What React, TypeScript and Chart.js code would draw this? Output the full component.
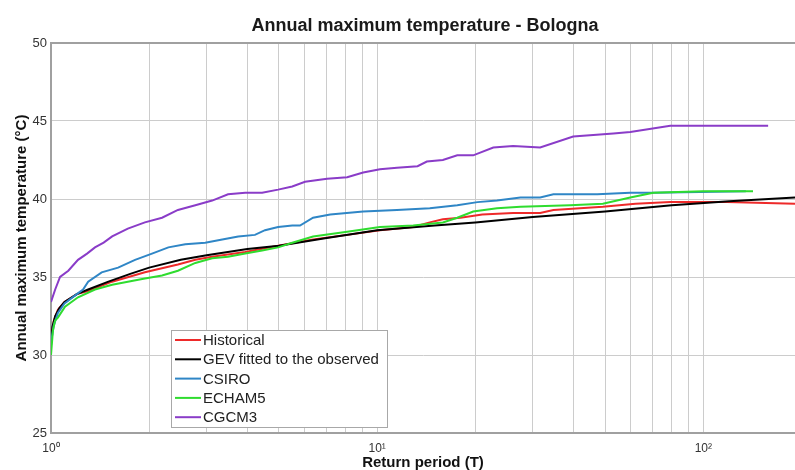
import React, { useEffect, useRef } from 'react';
import { Chart, registerables } from 'chart.js';

Chart.register(...registerables);

const FONT = '"Liberation Sans", Arial, sans-serif';

const chartTitle = 'Annual maximum temperature - Bologna';
const xTitle = 'Return period (T)';
const yTitle = 'Annual maximum temperature (°C)';

const seriesNames = ['Historical', 'GEV fitted to the observed', 'CSIRO', 'ECHAM5', 'CGCM3'];
const seriesColors = ['#ee2a2a', '#000000', '#2f86c6', '#2fdc2f', '#8a3cc8'];

// Historical (empirical)
const histT = [1.0, 1.02, 1.05, 1.1, 1.2, 1.3, 1.54, 1.94, 2.45, 2.77, 3.12, 3.94, 4.97, 6.36, 8.09, 10.2, 12.9, 14.5, 15.9, 18.0, 21.0, 26.1, 31.6, 34.7, 49.2, 62.0, 79.2, 118, 191];
const histV = [31.2, 32.2, 32.9, 33.4, 33.9, 34.1, 34.7, 35.3, 35.8, 36.1, 36.3, 36.6, 37.0, 37.4, 37.7, 38.0, 38.2, 38.5, 38.7, 38.8, 39.0, 39.1, 39.1, 39.3, 39.5, 39.7, 39.8, 39.8, 39.7];

// GEV fitted to the observed
const gevT = [1.0, 1.01, 1.03, 1.06, 1.1, 1.2, 1.3, 1.5, 1.75, 2, 2.5, 3, 4, 5, 7, 10, 15, 20, 30, 50, 80, 120, 191];
const gevV = [30.6, 31.8, 32.5, 33.0, 33.4, 33.9, 34.2, 34.7, 35.2, 35.6, 36.1, 36.4, 36.8, 37.0, 37.5, 38.0, 38.3, 38.5, 38.85, 39.2, 39.6, 39.85, 40.1];

// CSIRO
const csiroT = [1.0, 1.02, 1.05, 1.1, 1.2, 1.254, 1.3, 1.43, 1.606, 1.81, 2.04, 2.29, 2.58, 2.97, 3.35, 3.75, 4.22, 4.53, 4.97, 5.49, 5.8, 6.36, 7.18, 9.06, 11.5, 14.5, 17.6, 20.3, 23.3, 27.5, 31.6, 34.7, 47.3, 59.7, 70.2, 135];
const csiroV = [30.8, 31.9, 32.7, 33.3, 33.9, 34.2, 34.7, 35.3, 35.6, 36.1, 36.5, 36.9, 37.1, 37.2, 37.4, 37.6, 37.7, 38.0, 38.2, 38.3, 38.3, 38.8, 39.0, 39.2, 39.3, 39.4, 39.6, 39.8, 39.9, 40.1, 40.1, 40.3, 40.3, 40.4, 40.4, 40.5];

// ECHAM5
const echamT = [1.0, 1.014, 1.029, 1.05, 1.104, 1.21, 1.364, 1.54, 1.72, 1.94, 2.19, 2.45, 2.77, 3.12, 3.49, 3.94, 4.44, 4.97, 5.49, 6.36, 8.09, 10.2, 12.9, 15.9, 17.6, 19.7, 23.3, 27.5, 39.0, 49.2, 59.7, 70.2, 99.7, 142];
const echamV = [30.0, 31.6, 32.2, 32.4, 33.1, 33.7, 34.2, 34.5, 34.7, 34.9, 35.1, 35.4, 35.9, 36.2, 36.3, 36.5, 36.7, 36.9, 37.2, 37.6, 37.9, 38.2, 38.3, 38.5, 38.8, 39.2, 39.4, 39.5, 39.6, 39.7, 40.1, 40.4, 40.5, 40.5];

// CGCM3
const cgcmT = [1.0, 1.03, 1.066, 1.13, 1.21, 1.29, 1.364, 1.45, 1.54, 1.72, 1.94, 2.19, 2.45, 2.77, 3.12, 3.49, 3.94, 4.44, 4.97, 5.49, 6.01, 7.02, 8.09, 9.06, 10.2, 11.5, 13.3, 14.2, 15.9, 17.6, 19.7, 22.7, 26.1, 31.6, 39.9, 53, 59.7, 79.2, 158];
const cgcmV = [33.4, 34.2, 35.0, 35.4, 36.1, 36.5, 36.9, 37.2, 37.6, 38.1, 38.5, 38.8, 39.3, 39.6, 39.9, 40.3, 40.4, 40.4, 40.6, 40.8, 41.1, 41.3, 41.4, 41.7, 41.9, 42.0, 42.1, 42.4, 42.5, 42.8, 42.8, 43.3, 43.4, 43.3, 44.0, 44.2, 44.3, 44.7, 44.7];

const seriesT = [histT, gevT, csiroT, echamT, cgcmT];
const seriesV = [histV, gevV, csiroV, echamV, cgcmV];

const xMin = 1;
const xMax = 191;
const xGridTicks = [1, 2, 3, 4, 5, 6, 7, 8, 9, 10, 20, 30, 40, 50, 60, 70, 80, 90, 100];
const xTickLabels: Record<number, string> = { 1: '10⁰', 10: '10¹', 100: '10²' };
const yMin = 25;
const yMax = 50;
const yStep = 5;

const titlePlugin = {
  id: 'plotTitle',
  afterDraw(chart: any) {
    const { ctx, chartArea } = chart;
    ctx.save();
    ctx.font = `bold 18px ${FONT}`;
    ctx.fillStyle = '#1a1a1a';
    ctx.textAlign = 'center';
    ctx.textBaseline = 'middle';
    ctx.fillText(chartTitle, (chartArea.left + chartArea.right) / 2 + 2, 26);
    ctx.restore();
  },
};

const legendPlugin = {
  id: 'insideLegend',
  afterDraw(chart: any) {
    const { ctx, chartArea } = chart;
    const x0 = chartArea.left + 120;
    const y0 = chartArea.top + 287;
    const w = 216;
    const h = 97;
    ctx.save();
    ctx.fillStyle = '#ffffff';
    ctx.fillRect(x0, y0, w, h);
    ctx.strokeStyle = '#a8a8a8';
    ctx.lineWidth = 1;
    ctx.strokeRect(x0 + 0.5, y0 + 0.5, w, h);
    ctx.font = `15px ${FONT}`;
    ctx.textBaseline = 'middle';
    ctx.textAlign = 'left';
    chart.data.datasets.forEach((ds: any, i: number) => {
      const y = y0 + 10 + i * 19.3;
      ctx.strokeStyle = ds.borderColor;
      ctx.lineWidth = 2;
      ctx.beginPath();
      ctx.moveTo(x0 + 4, y);
      ctx.lineTo(x0 + 30, y);
      ctx.stroke();
      ctx.fillStyle = '#222222';
      ctx.fillText(ds.label, x0 + 32, y + 1);
    });
    ctx.restore();
  },
};

export default function App() {
  const canvasRef = useRef<HTMLCanvasElement | null>(null);

  useEffect(() => {
    const canvas = canvasRef.current;
    if (!canvas) return;
    const datasets = seriesNames.map((name, i) => ({
      label: name,
      data: seriesT[i].map((t, j) => ({ x: t, y: seriesV[i][j] })),
      borderColor: seriesColors[i],
      backgroundColor: seriesColors[i],
      borderWidth: 2,
      pointRadius: 0,
      tension: 0,
      fill: false,
      order: seriesNames.length - i,
    }));
    const chart = new Chart(canvas, {
      type: 'line',
      data: { datasets },
      plugins: [titlePlugin, legendPlugin],
      options: {
        responsive: false,
        animation: false,
        devicePixelRatio: 1,
        layout: { padding: { top: 43, left: 0, right: 0, bottom: 0 } },
        plugins: {
          legend: { display: false },
          title: { display: false },
          tooltip: { enabled: false },
        },
        scales: {
          x: {
            type: 'logarithmic',
            min: xMin,
            max: xMax,
            afterBuildTicks: (axis: any) => {
              axis.ticks = xGridTicks.map((v) => ({ value: v, major: false }));
            },
            afterFit: (axis: any) => {
              axis.height = 37;
            },
            ticks: {
              autoSkip: false,
              maxRotation: 0,
              minRotation: 0,
              padding: 8,
              color: '#333333',
              font: { family: FONT, size: 12 },
              callback: (v: any) => xTickLabels[Number(v)] ?? '',
            },
            grid: {
              color: '#cccccc',
              lineWidth: 1,
              drawTicks: false,
            },
            border: { display: true, color: '#a0a0a0', width: 2 },
            title: {
              display: true,
              text: xTitle,
              color: '#111111',
              font: { family: FONT, size: 15, weight: 'bold', lineHeight: 1 },
              padding: { top: 0, bottom: 0 },
            },
          },
          y: {
            type: 'linear',
            min: yMin,
            max: yMax,
            afterFit: (axis: any) => {
              axis.width = 51;
            },
            ticks: {
              stepSize: yStep,
              padding: 4,
              color: '#333333',
              font: { family: FONT, size: 13 },
            },
            grid: {
              color: (c: any) => (c.tick && c.tick.value === yMax ? '#a0a0a0' : '#cccccc'),
              lineWidth: (c: any) => (c.tick && c.tick.value === yMax ? 2 : 1),
              drawTicks: false,
            },
            border: { display: true, color: '#a0a0a0', width: 2 },
            title: {
              display: true,
              text: yTitle,
              color: '#111111',
              font: { family: FONT, size: 15, weight: 'bold', lineHeight: 1.2 },
              padding: { top: 13, bottom: 0 },
            },
          },
        },
      } as any,
    });
    return () => chart.destroy();
  }, []);

  return (
    <div style={{ position: 'absolute', left: 0, top: 0, width: 795, height: 470, background: '#ffffff' }}>
      <canvas ref={canvasRef} width={795} height={470} />
    </div>
  );
}
